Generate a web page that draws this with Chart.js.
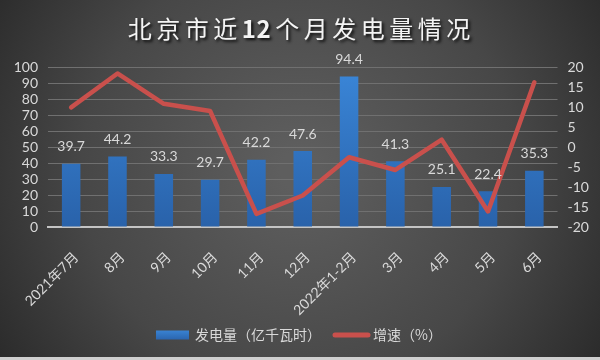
<!DOCTYPE html>
<html><head><meta charset="utf-8">
<script src="https://cdn.jsdelivr.net/npm/chart.js@4"></script>
<style>html,body{margin:0;padding:0;background:#333;}#wrap{width:600px;height:360px;}</style>
</head><body><div id="wrap"><canvas id="c" width="600" height="360"></canvas></div>
<script>
const titleText = '北京市近12个月发电量情况';
const categories = ['2021年7月','8月','9月','10月','11月','12月','2022年1-2月','3月','4月','5月','6月'];
const generation = [39.7,44.2,33.3,29.7,42.2,47.6,94.4,41.3,25.1,22.4,35.3];
const growth = [10.0,18.5,10.9,9.1,-16.7,-12.1,-2.5,-5.7,1.9,-16.1,16.3];
const seriesNames = ['发电量（亿千瓦时）','增速（%）'];
const leftTicks = [0,10,20,30,40,50,60,70,80,90,100];
const rightTicks = [-20,-15,-10,-5,0,5,10,15,20];

const NUM_FONT = "Lato, 'Noto Sans CJK SC', sans-serif";
const CJK_FONT = "'Noto Sans CJK SC', sans-serif";
const TXT = '#d9d9d9';

const decor = {
  id: 'decor',
  beforeDraw(chart) {
    const ctx = chart.ctx, W = chart.width, H = chart.height;
    ctx.save();
    const g = ctx.createRadialGradient(300, 170, 20, 300, 170, 380);
    g.addColorStop(0, '#5e5e5e');
    g.addColorStop(0.55, '#474747');
    g.addColorStop(1, '#262626');
    ctx.fillStyle = g;
    ctx.fillRect(0, 0, W, H);
    ctx.fillStyle = '#cfcfcf';
    ctx.fillRect(0, H - 3, W, 3);
    ctx.restore();
  },
  afterDatasetsDraw(chart) {
    const ctx = chart.ctx;
    const meta = chart.getDatasetMeta(1);
    ctx.save();
    ctx.font = '14px ' + NUM_FONT;
    ctx.fillStyle = TXT;
    ctx.textAlign = 'center';
    ctx.textBaseline = 'middle';
    meta.data.forEach((el, i) => {
      ctx.fillText(chart.data.datasets[1].data[i].toFixed(1), el.x, el.y - 17);
    });
    ctx.restore();
  },
  afterDraw(chart) {
    const ctx = chart.ctx;
    ctx.save();
    const size = 24, spacing = 4.5;
    const chars = Array.from(titleText);
    const fontFor = ch => (/[0-9]/.test(ch) ? 'bold ' : '') + size + 'px ' + CJK_FONT;
    let total = 0;
    const widths = chars.map((ch, i) => {
      ctx.font = fontFor(ch);
      const w = ctx.measureText(ch).width;
      const sp = (/[0-9]/.test(ch) && /[0-9]/.test(chars[i+1] || '')) ? 0.5 : spacing;
      return [w, i < chars.length - 1 ? sp : 0];
    });
    widths.forEach(([w, s]) => total += w + s);
    let x = 299 - total / 2;
    ctx.textBaseline = 'middle';
    ctx.textAlign = 'left';
    ctx.shadowColor = 'rgba(0,0,0,0.85)';
    ctx.shadowOffsetX = 2; ctx.shadowOffsetY = 2; ctx.shadowBlur = 3;
    ctx.fillStyle = '#f4f4f4';
    chars.forEach((ch, i) => {
      ctx.font = fontFor(ch);
      ctx.fillText(ch, x, 29);
      x += widths[i][0] + widths[i][1];
    });
    ctx.shadowColor = 'transparent';
    const ly = 335;
    const bg = ctx.createLinearGradient(0, 330, 0, 340);
    bg.addColorStop(0, '#3a84d4'); bg.addColorStop(1, '#2a64ad');
    ctx.fillStyle = bg;
    ctx.fillRect(156, 330.5, 33, 9);
    ctx.font = '14px ' + CJK_FONT;
    ctx.fillStyle = TXT;
    ctx.fillText(chart.data.datasets[1].label, 195, ly);
    ctx.strokeStyle = '#c9504c';
    ctx.lineWidth = 5;
    ctx.lineCap = 'round';
    ctx.beginPath(); ctx.moveTo(335, ly); ctx.lineTo(368, ly); ctx.stroke();
    ctx.fillText(chart.data.datasets[0].label, 373, ly);
    ctx.restore();
  }
};

function barFill(context) {
  const ca = context.chart.chartArea;
  if (!ca) return '#2f74c4';
  const g = context.chart.ctx.createLinearGradient(0, ca.top, 0, ca.bottom);
  g.addColorStop(0, '#3a86d8');
  g.addColorStop(1, '#2962aa');
  return g;
}

new Chart(document.getElementById('c'), {
  data: {
    labels: categories,
    datasets: [
      { type: 'line', label: seriesNames[1], data: growth, yAxisID: 'y1',
        borderColor: '#c9504c', backgroundColor: '#c9504c', borderWidth: 4.5,
        pointRadius: 0, tension: 0, borderJoinStyle: 'round', borderCapStyle: 'round', order: 0 },
      { type: 'bar', label: seriesNames[0], data: generation, yAxisID: 'y',
        backgroundColor: barFill, barPercentage: 0.4, categoryPercentage: 1, order: 1 }
    ]
  },
  options: {
    responsive: false,
    animation: false,
    devicePixelRatio: 1,
    layout: { padding: { top: 67.5, bottom: 38, left: 0, right: 0 } },
    plugins: { legend: { display: false }, title: { display: false }, tooltip: { enabled: false } },
    scales: {
      x: {
        grid: { display: false },
        border: { display: true, color: '#c4c4c4', width: 2 },
        ticks: { color: TXT, font: { family: NUM_FONT, size: 14 }, minRotation: 45, maxRotation: 45, padding: 14, labelOffset: 5, autoSkip: false },
        afterFit: s => { s.height = 95; }
      },
      y: {
        position: 'left', min: 0, max: 100,
        afterBuildTicks: s => { s.ticks = leftTicks.map(v => ({ value: v })); },
        grid: { color: c => c.tick && c.tick.value === 0 ? 'rgba(0,0,0,0)' : '#707070', lineWidth: 1, drawTicks: false },
        border: { display: false },
        ticks: { color: TXT, font: { family: NUM_FONT, size: 14 }, padding: 10, autoSkip: false },
        afterFit: s => { s.width = 48; }
      },
      y1: {
        position: 'right', min: -20, max: 20,
        afterBuildTicks: s => { s.ticks = rightTicks.map(v => ({ value: v })); },
        grid: { display: false, drawTicks: false },
        border: { display: false },
        ticks: { color: TXT, font: { family: NUM_FONT, size: 14 }, padding: 10, autoSkip: false },
        afterFit: s => { s.width = 42.5; }
      }
    }
  },
  plugins: [decor]
});
</script>
</body></html>
